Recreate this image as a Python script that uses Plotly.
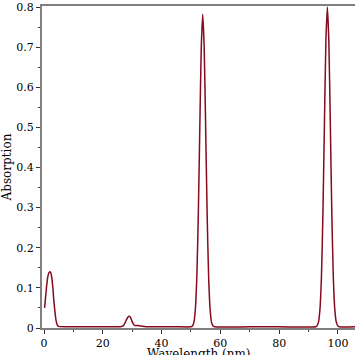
import plotly.graph_objects as go

wavelength = [0.2, 0.7, 1.2, 1.7, 2.1, 2.5, 3.0, 3.3, 3.7, 4.1, 4.5, 5.0, 10, 20, 26,
              26.5, 27, 27.5, 28, 28.5, 29, 29.5, 30, 30.5, 31, 32, 33, 34, 35, 45, 50,
              50.5, 51, 51.5, 52, 52.5, 53, 53.5, 54, 54.5, 55, 55.5, 56, 56.5, 57, 57.5, 58,
              70, 80, 92.4,
              92.9, 93.4, 93.9, 94.4, 94.9, 95.4, 95.9, 96.4, 96.9, 97.4, 97.9, 98.4, 98.9, 99.4, 99.9,
              100.5, 106]
absorption = [0.050, 0.090, 0.124, 0.138, 0.140, 0.132, 0.102, 0.072, 0.042, 0.019, 0.008, 0.004, 0.003, 0.003, 0.003,
              0.004, 0.006, 0.012, 0.020, 0.027, 0.029, 0.025, 0.016, 0.009, 0.006, 0.006, 0.005, 0.004, 0.003, 0.003, 0.003,
              0.005, 0.014, 0.048, 0.129, 0.283, 0.497, 0.698, 0.782, 0.698, 0.497, 0.283, 0.129, 0.048, 0.014, 0.005, 0.003,
              0.003, 0.003, 0.003,
              0.006, 0.016, 0.049, 0.132, 0.290, 0.510, 0.715, 0.800, 0.715, 0.510, 0.290, 0.132, 0.049, 0.016, 0.006,
              0.003, 0.003]

x_ticks = [0, 20, 40, 60, 80, 100]
y_ticks = [0, 0.1, 0.2, 0.3, 0.4, 0.5, 0.6, 0.7, 0.8]
y_tick_labels = ["0", "0.1", "0.2", "0.3", "0.4", "0.5", "0.6", "0.7", "0.8"]

fig = go.Figure()
fig.add_trace(go.Scatter(x=wavelength, y=absorption, mode="lines",
                         line=dict(color="#850a1c", width=1.5, shape="spline", smoothing=0.5),
                         showlegend=False, hoverinfo="skip"))

font = dict(family="DejaVu Serif", size=11, color="black")
fig.update_layout(
    width=355, height=355,
    margin=dict(l=42, r=0, t=6, b=27),
    paper_bgcolor="white", plot_bgcolor="white",
    font=font,
    xaxis=dict(range=[-0.68, 105.8], tickvals=x_ticks, ticktext=[str(v) for v in x_ticks],
               automargin=False,
               showgrid=False, zeroline=False, showline=True, linecolor="#808080", linewidth=2,
               mirror=True, ticks="outside", ticklen=4, tickcolor="#333333", tickwidth=1,
               minor=dict(tickvals=[10, 30, 50, 70, 90], ticks="outside", ticklen=2, tickcolor="#333333"),
               tickfont=font),
    yaxis=dict(range=[0, 0.8025], tickvals=y_ticks, ticktext=y_tick_labels,
               automargin=False,
               showgrid=False, zeroline=False, showline=True, linecolor="#808080", linewidth=2,
               ticks="outside", ticklen=4, tickcolor="#333333", tickwidth=1,
               minor=dict(tickvals=[0.05, 0.15, 0.25, 0.35, 0.45, 0.55, 0.65, 0.75], ticks="outside",
                          ticklen=2, tickcolor="#333333"),
               title=dict(text="Absorption", font=dict(family="DejaVu Serif", size=12)),
               tickfont=font),
    annotations=[dict(text="Wavelength (nm)", xref="paper", yref="paper", x=0.5, y=0,
                      xanchor="center", yanchor="top", yshift=-17, showarrow=False,
                      font=dict(family="DejaVu Serif", size=12, color="black"))],
)
fig.write_html("out.html", config={"displayModeBar": False},
               post_script="document.body.style.margin='0';")
